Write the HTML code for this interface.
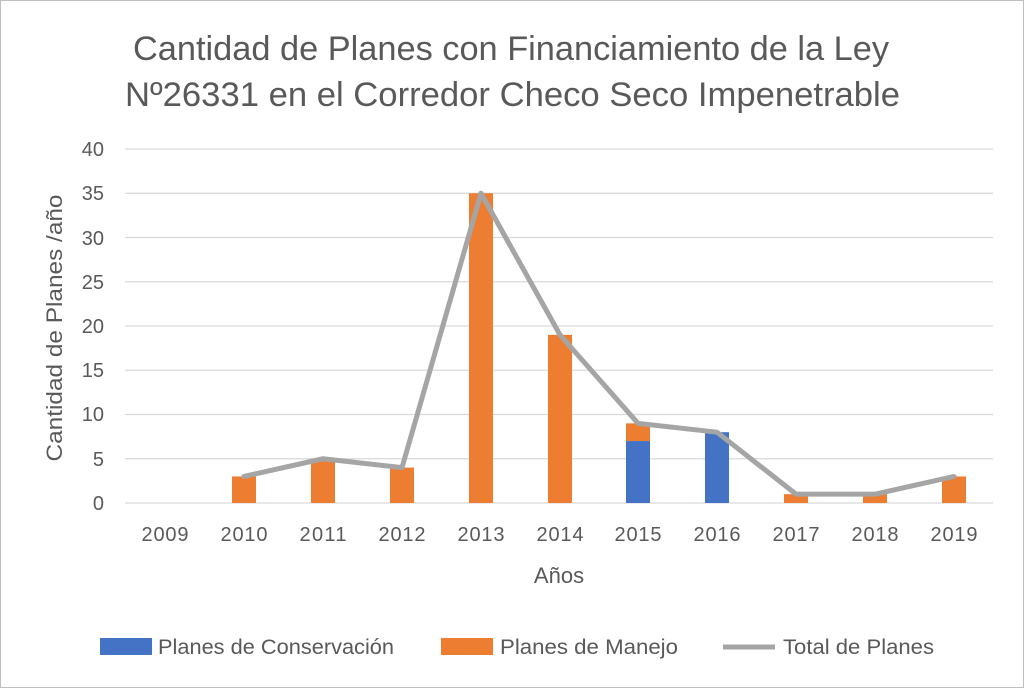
<!DOCTYPE html>
<html><head><meta charset="utf-8"><style>
html,body{margin:0;padding:0;background:#fff}
svg{display:block}
text{font-family:"Liberation Sans",sans-serif;fill:#595959}
</style></head><body>
<svg width="1024" height="688" viewBox="0 0 1024 688" xmlns="http://www.w3.org/2000/svg">
<rect x="0.5" y="0.5" width="1023" height="687" fill="#fff" stroke="#bfbfbf"/>
<text x="133" y="60" font-size="34" textLength="756" lengthAdjust="spacingAndGlyphs">Cantidad de Planes con Financiamiento de la Ley</text>
<text x="125" y="106" font-size="34" textLength="775" lengthAdjust="spacingAndGlyphs">Nº26331 en el Corredor Checo Seco Impenetrable</text>
<g stroke="#d9d9d9" stroke-width="1.3">
<line x1="125" x2="993" y1="149" y2="149"/><line x1="125" x2="993" y1="193.25" y2="193.25"/>
<line x1="125" x2="993" y1="237.5" y2="237.5"/><line x1="125" x2="993" y1="281.75" y2="281.75"/>
<line x1="125" x2="993" y1="326" y2="326"/><line x1="125" x2="993" y1="370.25" y2="370.25"/>
<line x1="125" x2="993" y1="414.5" y2="414.5"/><line x1="125" x2="993" y1="458.75" y2="458.75"/>
<line x1="125" x2="993" y1="503" y2="503"/>
</g>
<g font-size="20" text-anchor="end">
<text x="104" y="156">40</text><text x="104" y="200">35</text><text x="104" y="245">30</text>
<text x="104" y="289">25</text><text x="104" y="333">20</text><text x="104" y="377">15</text>
<text x="104" y="421">10</text><text x="104" y="466">5</text><text x="104" y="510">0</text>
</g>
<g font-size="20" text-anchor="middle">
<text x="165" y="541" textLength="47">2009</text><text x="244" y="541" textLength="47">2010</text><text x="323" y="541" textLength="47">2011</text>
<text x="402" y="541" textLength="47">2012</text><text x="481" y="541" textLength="47">2013</text><text x="560" y="541" textLength="47">2014</text>
<text x="638" y="541" textLength="47">2015</text><text x="717" y="541" textLength="47">2016</text><text x="796" y="541" textLength="47">2017</text>
<text x="875" y="541" textLength="47">2018</text><text x="954" y="541" textLength="47">2019</text>
<text x="559" y="583" font-size="22">Años</text>
</g>
<text transform="translate(62,328) rotate(-90)" font-size="22" text-anchor="middle" textLength="267" lengthAdjust="spacingAndGlyphs">Cantidad de Planes /año</text>
<g fill="#ED7D31">
<rect x="232" y="476.45" width="24" height="26.55"/>
<rect x="311" y="458.75" width="24" height="44.25"/>
<rect x="390" y="467.6" width="24" height="35.4"/>
<rect x="469" y="193.25" width="24" height="309.75"/>
<rect x="548" y="334.85" width="24" height="168.15"/>
<rect x="626" y="423.35" width="24" height="17.7"/>
<rect x="784" y="494.15" width="24" height="8.85"/>
<rect x="863" y="494.15" width="24" height="8.85"/>
<rect x="942" y="476.45" width="24" height="26.55"/>
</g>
<g fill="#4472C4">
<rect x="626" y="441.05" width="24" height="61.95"/>
<rect x="705" y="432.2" width="24" height="70.8"/>
</g>
<polyline fill="none" stroke="#A5A5A5" stroke-width="5" stroke-linejoin="round" stroke-linecap="round"
points="244,476.45 323,458.75 402,467.6 481,193.25 560,334.85 638,423.35 717,432.2 796,494.15 875,494.15 954,476.45"/>
<rect x="100" y="638" width="52" height="17" fill="#4472C4"/>
<text x="158" y="654" font-size="21" textLength="236" lengthAdjust="spacingAndGlyphs">Planes de Conservación</text>
<rect x="441" y="638" width="52" height="17" fill="#ED7D31"/>
<text x="500" y="654" font-size="21" textLength="178" lengthAdjust="spacingAndGlyphs">Planes de Manejo</text>
<line x1="723" x2="775" y1="647" y2="647" stroke="#A5A5A5" stroke-width="5"/>
<text x="783" y="654" font-size="21" textLength="151" lengthAdjust="spacingAndGlyphs">Total de Planes</text>
</svg>
</body></html>
